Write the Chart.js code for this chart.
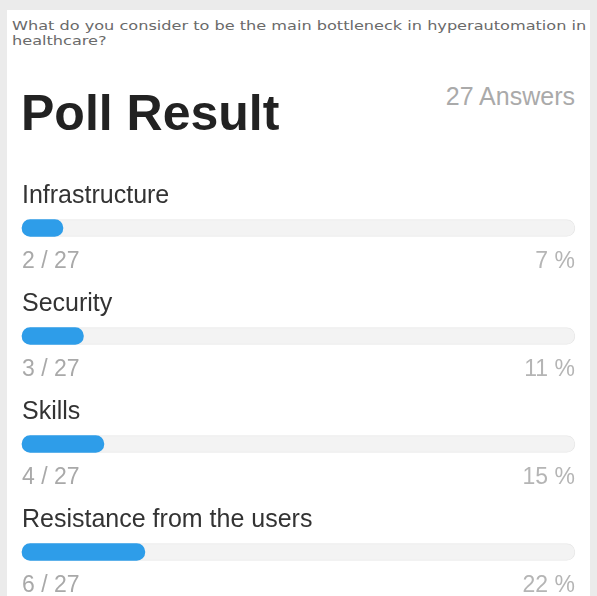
<!DOCTYPE html>
<html>
<head>
<meta charset="utf-8">
<script src="https://cdn.jsdelivr.net/npm/chart.js@4"></script>
<style>
  html, body { margin: 0; padding: 0; width: 597px; height: 596px; overflow: hidden; background: #ebebeb; }
  #panel { position: absolute; left: 7px; top: 10px; width: 583px; height: 600px; background: #fff; }
  #question { position: absolute; left: 12px; top: 18px; width: 700px; font: 13px "DejaVu Sans", sans-serif; line-height: 15px; color: #6a6a6a; white-space: nowrap; transform: scaleX(1.24); transform-origin: left top; }
  #title { position: absolute; left: 21px; top: 84px; font: bold 50px "Liberation Sans", Arial, sans-serif; color: #222; }
  #answers { position: absolute; right: 22px; top: 82px; font: 25px "Liberation Sans", Arial, sans-serif; color: #aaa; }
  #wrap { position: absolute; left: 0; top: 0; width: 597px; height: 596px; }
</style>
</head>
<body>
<div id="panel"></div>
<div id="question">What do you consider to be the main bottleneck in hyperautomation in<br>healthcare?</div>
<div id="title">Poll Result</div>
<div id="answers">27 Answers</div>
<div id="wrap"><canvas id="myChart"></canvas></div>
<script>
const ctx = document.getElementById('myChart');

const options = ['Infrastructure', 'Security', 'Skills', 'Resistance from the users'];
const votes = [2, 3, 4, 6];
const percents = [7, 11, 15, 22];
const totalAnswers = 27;

// labels above each bar, count and percent below it
const rowText = {
  id: 'rowText',
  afterDatasetsDraw(chart) {
    const c = chart.ctx;
    const y = chart.scales.y;
    const area = chart.chartArea;
    c.save();
    options.forEach((name, i) => {
      const py = y.getPixelForValue(i);
      c.textBaseline = 'alphabetic';
      c.textAlign = 'left';
      c.font = '25px "Liberation Sans", Arial, sans-serif';
      c.fillStyle = '#333';
      c.fillText(name, area.left, py - 25);
      c.font = '23px "Liberation Sans", Arial, sans-serif';
      c.fillStyle = '#a9a9a9';
      c.fillText(votes[i] + ' / ' + totalAnswers, area.left, py + 40);
      c.textAlign = 'right';
      c.fillStyle = '#b5b5b5';
      c.fillText(percents[i] + ' %', area.right, py + 40);
    });
    c.restore();
  }
};

new Chart(ctx, {
  type: 'bar',
  data: {
    labels: options,
    datasets: [{
      data: votes,
      backgroundColor: '#2e9de9',
      borderRadius: 9,
      borderSkipped: false,
      barThickness: 17,
      grouped: false,
      clip: false,
      order: 1
    },
    {
      data: options.map(() => totalAnswers),
      backgroundColor: '#f3f3f3',
      borderColor: '#e8e8e8',
      borderWidth: 1,
      borderRadius: 9,
      borderSkipped: false,
      barThickness: 17,
      grouped: false,
      clip: false,
      order: 2
    }]
  },
  options: {
    indexAxis: 'y',
    responsive: true,
    maintainAspectRatio: false,
    animation: false,
    layout: { padding: { left: 22, right: 22, top: 228, bottom: 44 } },
    plugins: { legend: { display: false }, tooltip: { enabled: false } },
    scales: {
      x: { min: 0, max: totalAnswers, display: false },
      y: { display: false, offset: false }
    }
  },
  plugins: [rowText]
});
</script>
</body>
</html>
